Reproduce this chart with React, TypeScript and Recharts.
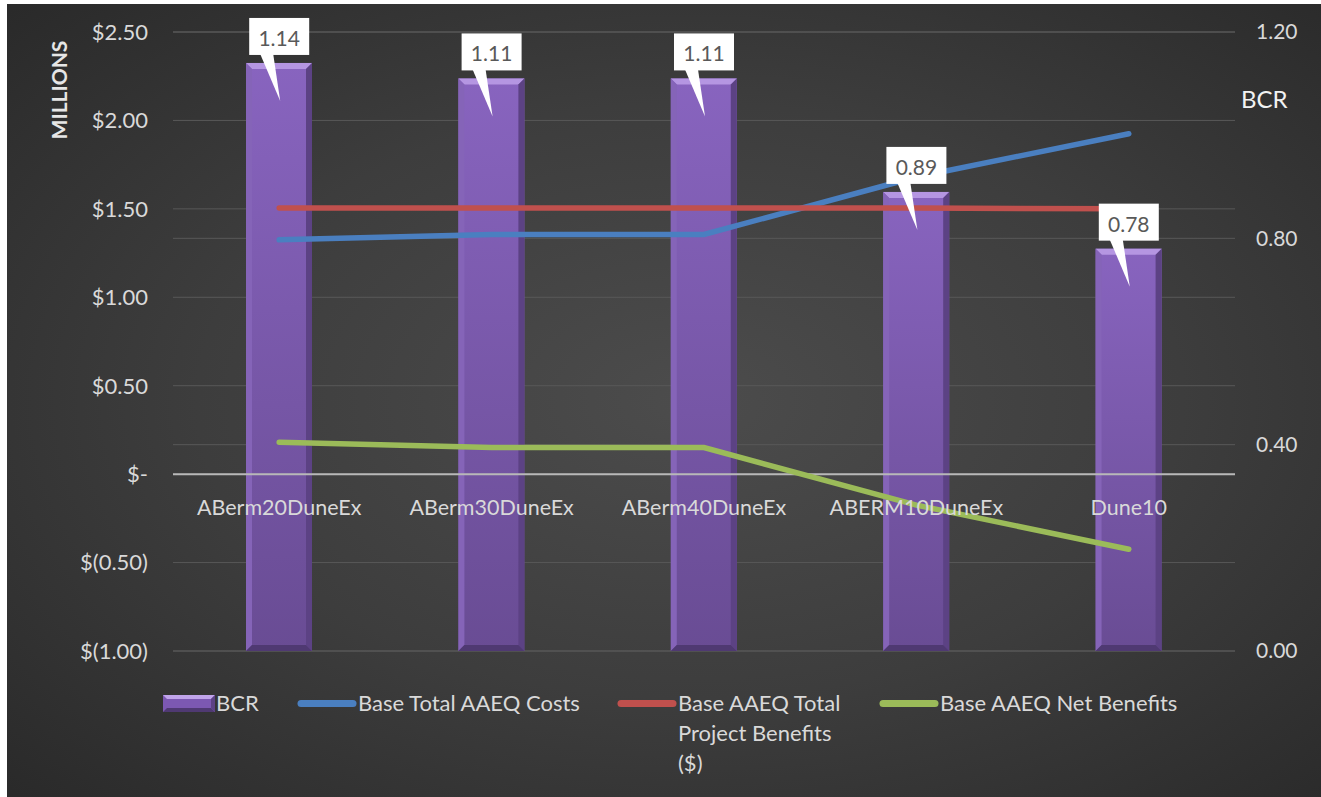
import React from 'react';
import {
  Bar,
  CartesianGrid,
  ComposedChart,
  LabelList,
  Legend,
  Line,
  ReferenceLine,
  XAxis,
  YAxis,
} from 'recharts';

// Alternatives and their ratios / annual equivalent dollars (millions)
const categories = ['ABerm20DuneEx', 'ABerm30DuneEx', 'ABerm40DuneEx', 'ABERM10DuneEx', 'Dune10'];
const bcrValues = [1.14, 1.11, 1.11, 0.89, 0.78];
const aaeqCosts = [1.325, 1.355, 1.355, 1.68, 1.925];
const aaeqBenefits = [1.505, 1.505, 1.505, 1.505, 1.5];
const aaeqNetBenefits = [0.18, 0.15, 0.15, -0.175, -0.425];

const dollarTicks = [-1, -0.5, 0, 0.5, 1, 1.5, 2, 2.5];
const ratioTicks = [0, 0.4, 0.8, 1.2];

const rows = categories.map((name, i) => ({
  name,
  bcr: bcrValues[i],
  costs: aaeqCosts[i],
  benefits: aaeqBenefits[i],
  net: aaeqNetBenefits[i],
}));

const FONT = 'Lato, "Open Sans", sans-serif';
const TICK_COLOR = '#d9d9d9';
const GRID_COLOR = '#585858';

const COLORS = {
  costs: '#4a7fc0',
  benefits: '#c0504d',
  net: '#9bbb59',
};

function formatMillions(v: number) {
  if (v === 0) return '$-';
  const s = Math.abs(v).toFixed(2);
  return v < 0 ? `$(${s})` : `$${s}`;
}

// purple column with a bevelled edge
function BevelBar(props: any) {
  const { x, y, width, height } = props;
  if (!height || height <= 0) return null;
  const b = 6;
  const r = x + width;
  const btm = y + height;
  return (
    <g>
      <rect x={x} y={y} width={width} height={height} fill="url(#bcrFill)" />
      <polygon points={`${x},${y} ${r},${y} ${r - b},${y + b} ${x + b},${y + b}`} fill="#b596e2" />
      <polygon points={`${x},${y} ${x + b},${y + b} ${x + b},${btm - b} ${x},${btm}`} fill="#8564b8" />
      <polygon points={`${r},${y} ${r},${btm} ${r - b},${btm - b} ${r - b},${y + b}`} fill="#5c4284" />
      <polygon points={`${x},${btm} ${r},${btm} ${r - b},${btm - b} ${x + b},${btm - b}`} fill="#4f3972" />
    </g>
  );
}

// white call-out box pointing into the top of the column
function Callout(props: any) {
  const { x, y, value } = props;
  if (x == null || y == null) return null;
  const w = 60;
  const h = 37;
  const top = y - 45;
  return (
    <g>
      <polygon
        points={`${x - 19},${top + h - 1} ${x - 6},${top + h - 1} ${x + 1},${y + 38}`}
        fill="#ffffff"
      />
      <rect x={x - w / 2} y={top} width={w} height={h} fill="#ffffff" />
      <text
        x={x}
        y={top + h / 2 + 1}
        textAnchor="middle"
        dominantBaseline="central"
        fontFamily={FONT}
        fontSize={21}
        fill="#595959"
      >
        {Number(value).toFixed(2)}
      </text>
    </g>
  );
}

// category names sit just under the zero line
function CategoryName(props: any) {
  const { x, y, value } = props;
  if (x == null || y == null) return null;
  return (
    <text
      x={x}
      y={y + 33}
      textAnchor="middle"
      dominantBaseline="central"
      fontFamily={FONT}
      fontSize={21.5}
      fill={TICK_COLOR}
    >
      {value}
    </text>
  );
}

function BarSwatch() {
  return (
    <svg width={52} height={17} style={{ display: 'block' }}>
      <rect x={0} y={0} width={52} height={17} fill="#7c58b2" />
      <polygon points="0,0 52,0 48,4 4,4" fill="#c0a4ea" />
      <polygon points="0,17 52,17 48,13 4,13" fill="#4f3972" />
      <polygon points="52,0 52,17 48,13 48,4" fill="#5c4284" />
    </svg>
  );
}

function LineSwatch({ color }: { color: string }) {
  return (
    <svg width={60} height={9} style={{ display: 'block' }}>
      <line x1={4} y1={4.5} x2={56} y2={4.5} stroke={color} strokeWidth={7} strokeLinecap="round" />
    </svg>
  );
}

const legendItems = [
  { label: 'BCR', swatch: <BarSwatch />, width: 134, textWidth: 80 },
  { label: 'Base Total AAEQ Costs', swatch: <LineSwatch color={COLORS.costs} />, width: 320, textWidth: 250 },
  { label: 'Base AAEQ Total Project Benefits ($)', swatch: <LineSwatch color={COLORS.benefits} />, width: 262, textWidth: 168 },
  { label: 'Base AAEQ Net Benefits', swatch: <LineSwatch color={COLORS.net} />, width: 300, textWidth: 260 },
];

function ChartLegend() {
  return (
    <div style={{ display: 'flex', alignItems: 'flex-start', fontFamily: FONT, fontSize: 22, color: TICK_COLOR }}>
      {legendItems.map((item) => (
        <div key={item.label} style={{ display: 'flex', alignItems: 'flex-start', width: item.width }}>
          <div style={{ height: 30, display: 'flex', alignItems: 'center', marginRight: 1 }}>{item.swatch}</div>
          <div style={{ width: item.textWidth, lineHeight: '30px' }}>{item.label}</div>
        </div>
      ))}
    </div>
  );
}

export default function App() {
  return (
    <div style={{ position: 'absolute', left: 0, top: 0, width: 1321, height: 797, background: '#ffffff', overflow: 'hidden' }}>
      <div
        style={{
          position: 'absolute',
          left: 7,
          top: 4,
          right: 0,
          bottom: 0,
          background: 'radial-gradient(ellipse 75% 75% at 52% 50%, #4c4c4c 0%, #3d3d3d 50%, #282828 100%)',
        }}
      />
      <div style={{ position: 'absolute', left: 0, top: 0 }}>
        <ComposedChart width={1321} height={797} data={rows} margin={{ top: 32, right: 6, bottom: 146, left: 73 }}>
          <defs>
            <linearGradient id="bcrFill" x1="0" y1="0" x2="0" y2="1">
              <stop offset="0%" stopColor="#8864bf" />
              <stop offset="100%" stopColor="#694c94" />
            </linearGradient>
          </defs>
          <CartesianGrid yAxisId="left" vertical={false} stroke={GRID_COLOR} />
          <CartesianGrid yAxisId="right" vertical={false} stroke={GRID_COLOR} />
          <XAxis dataKey="name" hide />
          <YAxis
            yAxisId="left"
            domain={[-1, 2.5]}
            ticks={dollarTicks}
            tickFormatter={(v) => formatMillions(Number(v))}
            axisLine={false}
            tickLine={false}
            tickMargin={19}
            width={100}
            tick={{ fill: TICK_COLOR, fontSize: 22, fontFamily: FONT }}
            label={({ viewBox }: any) => (
              <text
                x={viewBox.x - 15}
                y={90}
                transform={`rotate(-90 ${viewBox.x - 15} 90)`}
                textAnchor="middle"
                dominantBaseline="central"
                fontFamily={FONT}
                fontWeight={700}
                fontSize={21}
                fill="#e6e6e6"
              >
                MILLIONS
              </text>
            )}
          />
          <YAxis
            yAxisId="right"
            orientation="right"
            domain={[0, 1.2]}
            ticks={ratioTicks}
            tickFormatter={(v) => Number(v).toFixed(2)}
            axisLine={false}
            tickLine={false}
            tickMargin={15}
            width={80}
            tick={{ fill: TICK_COLOR, fontSize: 21, fontFamily: FONT, textAnchor: 'start' }}
            label={({ viewBox }: any) => (
              <text
                x={viewBox.x + 6}
                y={98}
                textAnchor="start"
                dominantBaseline="central"
                fontFamily={FONT}
                fontSize={24}
                fill="#f2f2f2"
              >
                BCR
              </text>
            )}
          />
          <ReferenceLine yAxisId="left" y={0} stroke="#b8b8b8" strokeWidth={2} />
          <Bar yAxisId="right" dataKey="bcr" name="BCR" barSize={66} shape={BevelBar} isAnimationActive={false} />
          <Line
            yAxisId="left"
            dataKey="costs"
            name="Base Total AAEQ Costs"
            stroke={COLORS.costs}
            strokeWidth={5.5}
            strokeLinecap="round"
            dot={false}
            activeDot={false}
            isAnimationActive={false}
          />
          <Line
            yAxisId="left"
            dataKey="benefits"
            name="Base AAEQ Total Project Benefits ($)"
            stroke={COLORS.benefits}
            strokeWidth={5.5}
            strokeLinecap="round"
            dot={false}
            activeDot={false}
            isAnimationActive={false}
          />
          <Line
            yAxisId="left"
            dataKey="net"
            name="Base AAEQ Net Benefits"
            stroke={COLORS.net}
            strokeWidth={5.5}
            strokeLinecap="round"
            dot={false}
            activeDot={false}
            isAnimationActive={false}
          />
          {/* anchor for category names along the zero line */}
          <Line
            yAxisId="left"
            dataKey={() => 0}
            stroke="none"
            dot={false}
            activeDot={false}
            legendType="none"
            isAnimationActive={false}
          >
            <LabelList dataKey="name" content={CategoryName} />
          </Line>
          {/* anchor for BCR call-outs at the top of each column */}
          <Line
            yAxisId="right"
            dataKey="bcr"
            stroke="none"
            dot={false}
            activeDot={false}
            legendType="none"
            isAnimationActive={false}
          >
            <LabelList dataKey="bcr" content={Callout} />
          </Line>
          <Legend
            layout="vertical"
            align="center"
            verticalAlign="middle"
            wrapperStyle={{ left: 163, top: 688, width: 1120 }}
            content={() => <ChartLegend />}
          />
        </ComposedChart>
      </div>
    </div>
  );
}
